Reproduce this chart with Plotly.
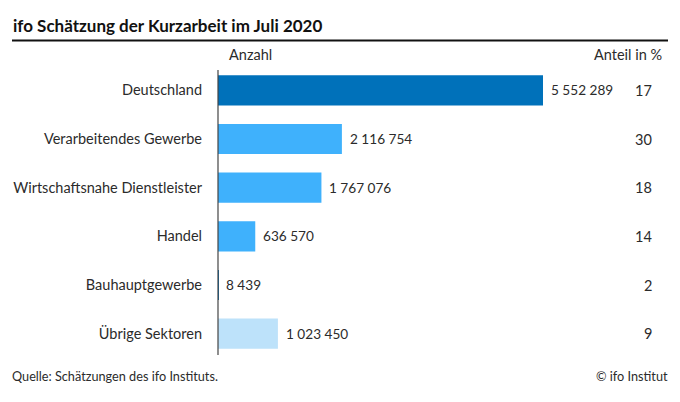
import plotly.graph_objects as go

categories = ["Deutschland", "Verarbeitendes Gewerbe", "Wirtschaftsnahe Dienstleister",
              "Handel", "Bauhauptgewerbe", "Übrige Sektoren"]
anzahl = [5552289, 2116754, 1767076, 636570, 8439, 1023450]
anteil = [17, 30, 18, 14, 2, 9]
colors = ["#0071BA", "#3FB1FC", "#3FB1FC", "#3FB1FC", "#0071BA", "#BDE2FA"]

W, H = 680, 402
L, R, T, B = 218, 12, 66, 44
plot_w = W - L - R
px_per_unit = 325 / 5552289
xmax = plot_w / px_per_unit

FONT = "Lato"
TXT = "#2b2b2b"
FS = 14.5
FSN = 13.6

def fmt(v):
    return f"{v:,}".replace(",", " ")

fig = go.Figure()
fig.add_trace(go.Bar(
    y=categories, x=anzahl, orientation="h",
    marker=dict(color=colors, line=dict(width=0)),
    width=0.62, hoverinfo="skip",
))

ann = []
for c, v in zip(categories, anzahl):
    ann.append(dict(x=v, y=c, xref="x", yref="y", text=fmt(v), showarrow=False,
                    xanchor="left", xshift=6, font=dict(size=FSN, color=TXT, family=FONT)))
for c, a in zip(categories, anteil):
    ann.append(dict(x=(654 - L) / plot_w, y=c, xref="paper", yref="y", text=str(a), showarrow=False,
                    xanchor="right", font=dict(size=FS, color=TXT, family=FONT)))

def px(x):
    return (x - L) / plot_w
def py(y):
    return 1 - (y - T) / (H - T - B)

ann += [
    dict(x=px(11), y=py(26), xref="paper", yref="paper", text="<b>ifo Schätzung der Kurzarbeit im Juli 2020</b>",
         showarrow=False, xanchor="left", yanchor="middle", font=dict(size=17, color="#111", family=FONT)),
    dict(x=px(227), y=py(55), xref="paper", yref="paper", text="Anzahl",
         showarrow=False, xanchor="left", yanchor="middle", font=dict(size=FS, color=TXT, family=FONT)),
    dict(x=px(664), y=py(55), xref="paper", yref="paper", text="Anteil in %",
         showarrow=False, xanchor="right", yanchor="middle", font=dict(size=FS, color=TXT, family=FONT)),
    dict(x=px(10), y=py(376), xref="paper", yref="paper", text="Quelle: Schätzungen des ifo Instituts.",
         showarrow=False, xanchor="left", yanchor="middle", font=dict(size=12.7, color=TXT, family=FONT)),
    dict(x=px(670), y=py(376), xref="paper", yref="paper", text="© ifo Institut",
         showarrow=False, xanchor="right", yanchor="middle", font=dict(size=12.7, color=TXT, family=FONT)),
]

shapes = [
    dict(type="line", xref="paper", yref="paper", x0=px(12), x1=px(668), y0=py(40.5), y1=py(40.5),
         line=dict(color="#111", width=2)),
    dict(type="line", xref="paper", yref="paper", x0=0, x1=0, y0=py(70), y1=py(355),
         line=dict(color="#444", width=1.2)),
]

fig.update_layout(
    width=W, height=H,
    margin=dict(l=L, r=R, t=T, b=B),
    paper_bgcolor="white", plot_bgcolor="white",
    showlegend=False,
    font=dict(family=FONT, color=TXT, size=FS),
    xaxis=dict(range=[0, xmax], visible=False, fixedrange=True),
    yaxis=dict(autorange="reversed", showline=False, showgrid=False, zeroline=False,
               ticks="", ticklabelstandoff=15, tickfont=dict(size=FS, color=TXT, family=FONT)),
    annotations=ann, shapes=shapes,
    bargap=0.38,
)

fig.write_html("out.html")
